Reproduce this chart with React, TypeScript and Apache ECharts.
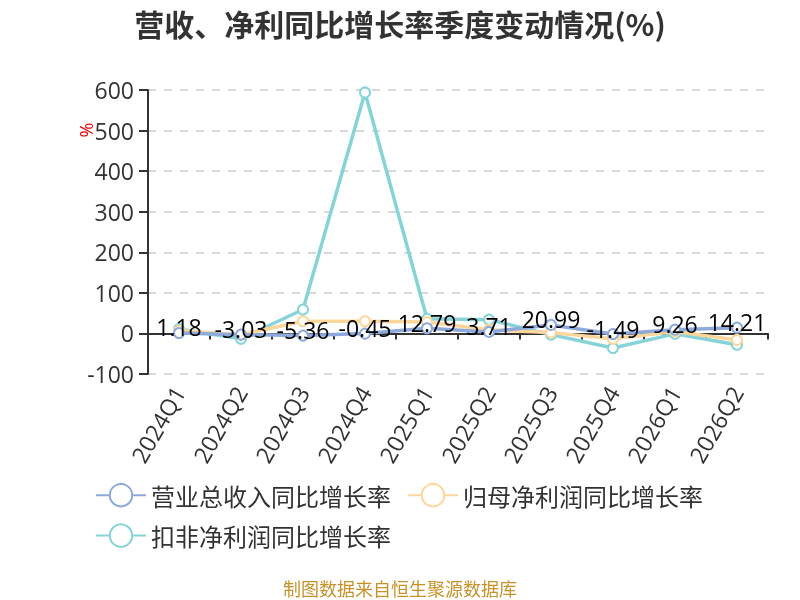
import React, { useEffect, useRef } from "react";
import * as echarts from "echarts";

const categories = ["2024Q1", "2024Q2", "2024Q3", "2024Q4", "2025Q1", "2025Q2", "2025Q3", "2025Q4", "2026Q1", "2026Q2"];
const revenueYoY = [1.18, -3.03, -5.36, -0.45, 12.79, 3.71, 20.99, -1.49, 9.26, 14.21];
const netProfitYoY = [7, -3, 30, 30, 28, 9, 2, -13, 5, -16];
const deductedProfitYoY = [11, -13, 59, 594, 36, 34, -3, -36, -1, -28];
const yTicks = { min: -100, max: 600, interval: 100 };

const FONT = "'Open Sans', 'Noto Sans CJK SC', sans-serif";
const CJK = "'Noto Sans CJK SC', sans-serif";

export default function App() {
  const ref = useRef<HTMLDivElement>(null);
  useEffect(() => {
    if (!ref.current) return;
    const chart = echarts.init(ref.current, undefined, { renderer: "svg" });
    const mk = (name: string, data: number[], color: string, label: boolean, z: number) => ({
      name,
      type: "line",
      data,
      z,
      symbol: "emptyCircle",
      symbolSize: 10,
      lineStyle: { width: 3.5, color },
      itemStyle: { color, borderWidth: 2 },
      label: label
        ? { show: true, position: "top", distance: -12, fontSize: 23, color: "#000", fontFamily: FONT }
        : { show: false },
    });
    chart.setOption({
      animation: false,
      textStyle: { fontFamily: FONT },
      title: {
        text: "营收、净利同比增长率季度变动情况(%)",
        left: "center",
        top: 3,
        textStyle: { fontSize: 30, fontWeight: "bold", color: "#333", fontFamily: CJK },
      },
      grid: { left: 148, right: 32, top: 90, bottom: 226 },
      legend: {
        left: 90,
        width: 690,
        top: 478,
        itemWidth: 50,
        itemHeight: 28,
        itemGap: 16,
        textStyle: { fontSize: 24, color: "#333", fontFamily: CJK, width: 248 },
        data: ["营业总收入同比增长率", "归母净利润同比增长率", "扣非净利润同比增长率"],
      },
      xAxis: {
        type: "category",
        data: categories,
        axisLine: { onZero: true, lineStyle: { color: "#333", width: 2 } },
        axisTick: { show: true, length: 6, lineStyle: { color: "#333", width: 2 } },
        axisLabel: { rotate: 60, fontSize: 23, color: "#333", margin: 14, fontFamily: FONT },
      },
      yAxis: {
        type: "value",
        min: yTicks.min,
        max: yTicks.max,
        interval: yTicks.interval,
        axisLine: { show: true, lineStyle: { color: "#333", width: 2 } },
        axisTick: { show: true, length: 9, lineStyle: { color: "#333", width: 2 } },
        axisLabel: { fontSize: 23, color: "#333", margin: 14, fontFamily: FONT },
        splitLine: { lineStyle: { type: [8, 8], color: "#ccc", width: 1.5 } },
      },
      graphic: [
        {
          type: "text",
          x: 86,
          y: 130,
          rotation: Math.PI / 2,
          style: { text: "%", fill: "#e00", fontSize: 18, fontFamily: FONT, textAlign: "center", textVerticalAlign: "middle" },
        },
        {
          type: "text",
          left: "center",
          top: 579,
          style: { text: "制图数据来自恒生聚源数据库", fill: "#c8922a", fontSize: 18, fontFamily: CJK },
        },
      ],
      series: [
        mk("营业总收入同比增长率", revenueYoY, "#8eaadc", true, 3),
        mk("归母净利润同比增长率", netProfitYoY, "#fdd69c", false, 2),
        mk("扣非净利润同比增长率", deductedProfitYoY, "#86d3d8", false, 1),
      ],
    });
    return () => chart.dispose();
  }, []);
  return <div ref={ref} style={{ position: "fixed", left: 0, top: 0, width: 800, height: 600 }} />;
}
